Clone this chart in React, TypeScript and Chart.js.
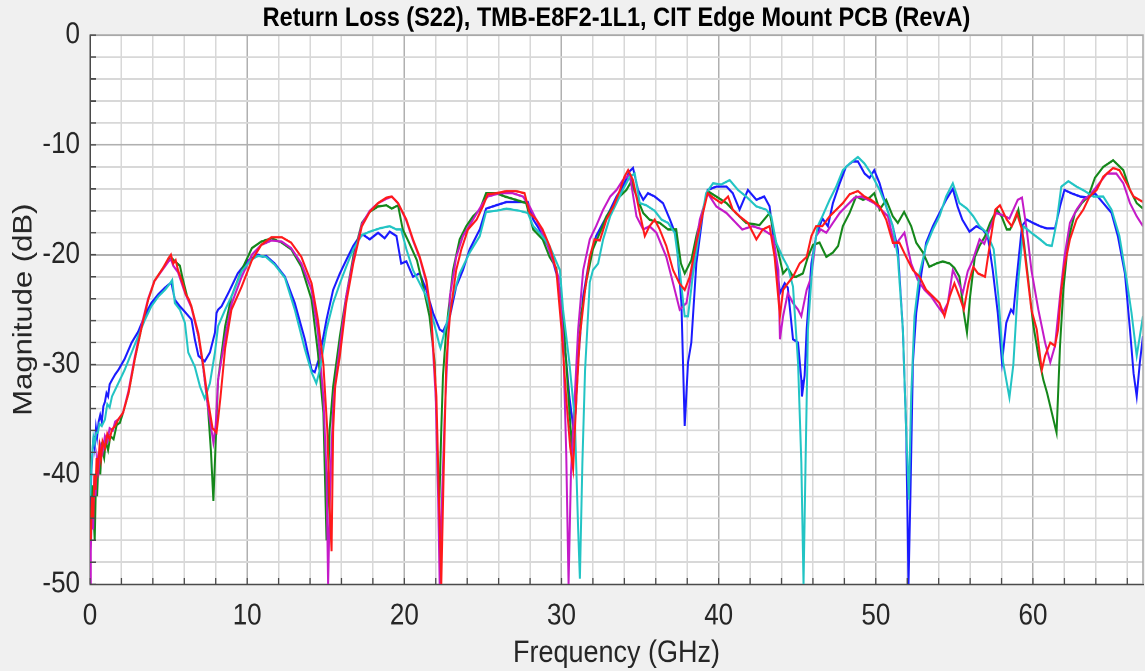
import { useEffect, useRef } from "react";
import { Chart, registerables } from "chart.js";

Chart.register(...registerables);

const TITLE = "Return Loss (S22), TMB-E8F2-1L1, CIT Edge Mount PCB (RevA)";
const X_LABEL = "Frequency (GHz)";
const Y_LABEL = "Magnitude (dB)";
const FONT = '"Liberation Sans", Arial, Helvetica, sans-serif';

// the reference picture is slightly stretched vertically
const STRETCH_Y = 1.15;
const CANVAS_W = 1145;
const CANVAS_H = 584;

const X_MIN = 0;
const X_MAX = 67;
const Y_MIN = -50;
const Y_MAX = 0;
const xTicks = [0, 2, 4, 6, 8, 10, 12, 14, 16, 18, 20, 22, 24, 26, 28, 30, 32, 34, 36, 38, 40, 42, 44, 46, 48, 50, 52, 54, 56, 58, 60, 62, 64, 66];
const yTicks = [-50, -48, -46, -44, -42, -40, -38, -36, -34, -32, -30, -28, -26, -24, -22, -20, -18, -16, -14, -12, -10, -8, -6, -4, -2, 0];

// [frequency GHz, magnitude dB]
const blue: number[][] = [[0.02,-44],[0.08,-40],[0.15,-38.3],[0.22,-36.5],[0.3,-37.5],[0.38,-35.8],[0.45,-36.6],[0.55,-35.2],[0.65,-34.6],[0.75,-35.2],[0.85,-33.8],[0.95,-33.4],[1.05,-32.6],[1.15,-32.9],[1.25,-31.8],[1.4,-31.4],[1.6,-30.9],[1.8,-30.5],[2.2,-29.5],[2.65,-28],[3.07,-27],[3.5,-25.5],[3.9,-24.4],[4.35,-23.6],[4.77,-23],[5.1,-22.6],[5.2,-22.7],[5.4,-24.1],[5.72,-24.7],[6.04,-25.2],[6.46,-25.9],[6.67,-27.7],[6.9,-29.2],[7.3,-29.7],[7.63,-28.9],[7.95,-27.1],[8.05,-25.3],[8.15,-25],[8.37,-24.7],[8.8,-23.5],[9.4,-21.7],[10.06,-20.5],[10.7,-20],[11.0,-20.2],[11.2,-20.1],[11.75,-20.8],[12.4,-22],[13.03,-24.4],[13.67,-27.7],[14.1,-30.5],[14.3,-30.7],[14.62,-29.2],[15.05,-25.9],[15.47,-23.2],[15.9,-21.7],[16.3,-20.5],[16.75,-19.2],[17.17,-18.3],[17.4,-18.2],[17.8,-18.6],[18.33,-18],[18.75,-18.5],[19.07,-17.9],[19.5,-18.3],[19.8,-20.8],[20.13,-20.6],[20.55,-22],[20.98,-21.7],[21.4,-23.2],[21.83,-25.3],[22.25,-26.8],[22.46,-27],[22.9,-25.6],[23.3,-22.9],[23.73,-21.4],[24.16,-19.5],[24.8,-17.7],[25.2,-15.8],[25.85,-15.5],[26.5,-15.2],[27.33,-15.2],[27.86,-15.2],[28.2,-16.8],[28.6,-17.7],[29.24,-19.5],[29.67,-21.7],[29.9,-23.2],[30.2,-28],[30.5,-32.9],[30.74,-35.6],[30.9,-34.5],[31.06,-29.8],[31.38,-23.8],[31.8,-20.2],[32.2,-18.3],[32.65,-17.1],[33.1,-15.9],[33.5,-14.7],[33.9,-13.8],[34.34,-12.4],[34.55,-12.1],[34.87,-14.1],[35.2,-15],[35.5,-14.4],[35.93,-14.7],[36.46,-15.3],[36.9,-16.8],[37.3,-18.3],[37.63,-24.4],[37.84,-35.6],[38.05,-29.8],[38.26,-28],[38.58,-20.8],[39.0,-16.2],[39.3,-14.1],[39.85,-13.8],[40.5,-13.8],[40.9,-14.4],[41.33,-15.9],[41.86,-14.1],[42.4,-15],[42.9,-14.7],[43.24,-15.6],[43.56,-19.2],[43.9,-23.5],[44.2,-22.6],[44.4,-23],[44.73,-27.7],[45.05,-28],[45.26,-31.4],[45.3,-32.9],[45.47,-31],[45.6,-26.8],[45.9,-20.8],[46.2,-18.3],[46.6,-16.7],[46.95,-17.4],[47.27,-15.3],[47.7,-13.5],[48.1,-12],[48.54,-11.5],[48.86,-11.5],[49.28,-12.6],[49.6,-13],[49.9,-12.3],[50.24,-13.5],[50.66,-15.6],[51.08,-17.4],[51.4,-19.5],[51.72,-26.8],[51.93,-35.9],[52.08,-50],[52.2,-42],[52.36,-29.8],[52.57,-25.3],[52.9,-21.7],[53.2,-18.9],[53.63,-17.4],[54.05,-16.2],[54.47,-15],[54.9,-14],[55.2,-15.6],[55.5,-16.8],[55.96,-17.9],[56.4,-17.4],[56.8,-17.7],[57.12,-18.3],[57.44,-21.4],[57.76,-25.3],[58.03,-29.8],[58.3,-26.2],[58.6,-25],[58.75,-25.3],[58.97,-22],[59.3,-17.4],[59.6,-16.8],[60.0,-17.1],[60.45,-17.4],[60.87,-17.6],[61.4,-17.6],[61.72,-15.6],[62.0,-14.1],[62.45,-14.4],[63.0,-14.7],[63.52,-14.8],[63.94,-14.4],[64.47,-15.3],[65.0,-16.2],[65.4,-18.3],[65.85,-21.7],[66.17,-26.8],[66.4,-30.8],[66.6,-32.9],[66.8,-29.8],[67.0,-27.4]];

const cyan: number[][] = [[0.02,-42],[0.1,-39],[0.15,-38],[0.22,-36.6],[0.3,-37.1],[0.4,-36.2],[0.5,-36.2],[0.6,-35.4],[0.75,-35.6],[0.95,-35],[1.1,-33.6],[1.25,-33.9],[1.4,-32.9],[1.8,-31.7],[2.2,-30.5],[2.65,-28.9],[3.07,-27.4],[3.5,-25.9],[3.9,-24.7],[4.35,-23.8],[4.77,-23.2],[5.1,-22.6],[5.23,-22.3],[5.4,-24.4],[5.72,-25],[6.04,-26.2],[6.25,-28.9],[6.67,-30.2],[7.0,-32],[7.3,-33.1],[7.63,-31.7],[7.95,-28.9],[8.15,-26.5],[8.6,-25],[9.0,-23.8],[9.65,-21.5],[10.3,-20.4],[10.7,-20.1],[11.2,-20.2],[11.75,-20.9],[12.4,-22.1],[13.03,-25],[13.67,-28.6],[14.1,-30.7],[14.4,-31.7],[14.62,-30.5],[15.05,-26.8],[15.47,-24.4],[15.9,-22.6],[16.3,-21.1],[16.75,-19.5],[17.3,-18.2],[17.8,-17.9],[18.43,-17.6],[19.07,-17.4],[19.5,-17.7],[19.8,-17.7],[20.13,-19.5],[20.55,-21.4],[20.98,-22.6],[21.4,-23.8],[21.83,-25.9],[22.25,-28.3],[22.3,-28.5],[22.7,-26.2],[23.1,-23.8],[23.52,-21.7],[24.16,-19.8],[24.8,-18.3],[25.2,-16.1],[25.85,-16],[26.5,-15.8],[27.33,-16],[27.86,-16.2],[28.2,-17.4],[28.6,-18],[29.24,-19.2],[29.9,-21.4],[30.1,-25],[30.5,-29.8],[30.85,-35],[31.06,-45],[31.17,-49.5],[31.33,-38.9],[31.5,-30.5],[31.8,-22.5],[32.0,-21.4],[32.33,-20.8],[32.65,-18.6],[33.1,-16.5],[33.5,-15.3],[33.9,-14.1],[34.34,-12.9],[34.66,-12.6],[34.98,-15.3],[35.4,-15.5],[35.93,-16],[36.36,-16.8],[36.78,-17.1],[37.2,-18],[37.52,-21.4],[37.84,-25.6],[38.05,-25.6],[38.37,-21.7],[38.8,-17.7],[39.2,-14.4],[39.64,-13.5],[40.17,-13.6],[40.7,-13.2],[41.23,-14.1],[41.75,-14.7],[42.4,-15.6],[43.03,-15.9],[43.35,-16.5],[43.66,-18.9],[44.1,-20.3],[44.4,-21.1],[44.73,-22.9],[45.05,-29.8],[45.26,-38.9],[45.4,-50],[45.53,-38.9],[45.68,-26.8],[46.0,-20.2],[46.3,-17.4],[46.6,-16.5],[47.06,-15],[47.48,-13.8],[47.9,-12.3],[48.33,-11.7],[48.86,-11.1],[49.28,-11.7],[49.7,-12.6],[50.24,-14.1],[50.66,-15.6],[51.08,-17.4],[51.4,-20.2],[51.72,-26.8],[51.93,-35.9],[52.1,-42.3],[52.25,-32.9],[52.46,-25.6],[52.78,-21.7],[53.2,-19.2],[53.63,-17.7],[54.05,-16.5],[54.47,-14.7],[54.9,-13.5],[55.32,-15.3],[55.8,-15.8],[56.2,-16.5],[56.6,-17.4],[57.06,-18],[57.5,-19.5],[57.8,-23.8],[58.1,-29.8],[58.5,-33],[58.75,-30],[59.07,-22.3],[59.4,-17.4],[59.9,-18],[60.45,-18.6],[60.87,-19.1],[61.2,-19.2],[61.5,-17.1],[61.8,-13.8],[62.25,-13.3],[62.77,-13.8],[63.3,-14.2],[63.84,-14.7],[64.47,-14.7],[65.0,-15.9],[65.5,-18.3],[65.96,-22.3],[66.27,-25.3],[66.6,-29.2],[66.8,-27.4],[67.0,-25.6]];

const red: number[][] = [[0.05,-46],[0.12,-42],[0.2,-44],[0.28,-40],[0.35,-41.4],[0.42,-38.5],[0.5,-39.5],[0.6,-37.5],[0.7,-38.6],[0.8,-37],[0.95,-37.6],[1.1,-36.3],[1.25,-36.8],[1.4,-35.9],[1.6,-35.6],[1.8,-35],[2.1,-34.4],[2.45,-32.6],[2.85,-29.5],[3.3,-26.5],[3.7,-24.1],[4.1,-22.4],[4.65,-21.2],[5.0,-20.3],[5.15,-20],[5.3,-20.8],[5.45,-20.5],[5.6,-21.4],[5.9,-22.6],[6.1,-23.6],[6.3,-24.1],[6.45,-24.7],[6.9,-27.2],[7.2,-30],[7.5,-33.2],[7.8,-35.8],[8.05,-36.2],[8.15,-35],[8.3,-33],[8.6,-28.5],[9.0,-25],[9.65,-22.9],[10.3,-20.5],[10.9,-19.1],[11.55,-18.4],[12.2,-18.4],[12.8,-18.9],[13.45,-20.2],[14.1,-22.6],[14.5,-25.9],[14.85,-30],[15.1,-36],[15.25,-43],[15.37,-47],[15.47,-36],[15.6,-32],[15.9,-29.2],[16.3,-24.4],[16.75,-20.8],[17.3,-17.4],[17.8,-16.1],[18.33,-15.3],[18.86,-14.8],[19.2,-14.7],[19.6,-15.3],[20.13,-16.8],[20.55,-18.6],[20.98,-20.2],[21.4,-22.3],[21.7,-25.3],[22.04,-32.9],[22.2,-42],[22.35,-50],[22.5,-40],[22.67,-29.8],[22.9,-25.6],[23.3,-21.4],[23.63,-19.5],[24.05,-17.7],[24.6,-16.8],[25.0,-15.6],[25.3,-14.5],[25.85,-14.4],[26.5,-14.2],[27.1,-14.2],[27.65,-14.4],[27.97,-16.2],[28.4,-16.8],[28.8,-17.7],[29.24,-19.2],[29.67,-21.4],[30.0,-26.8],[30.3,-33],[30.55,-37.5],[30.74,-39.5],[30.95,-32.9],[31.17,-27.4],[31.5,-23.2],[31.8,-20.2],[32.1,-18.6],[32.44,-18.7],[32.86,-16.8],[33.3,-15.6],[33.7,-14.2],[34.0,-12.9],[34.24,-12.3],[34.55,-13.2],[34.98,-16.2],[35.3,-18.3],[35.6,-17.4],[35.93,-16.8],[36.25,-17.7],[36.67,-19.2],[37.1,-21.4],[37.5,-22.6],[37.84,-23.2],[38.16,-22],[38.58,-18.9],[39.0,-16.2],[39.3,-14.4],[39.64,-14.8],[40.17,-15.3],[40.6,-14.7],[40.9,-15.9],[41.33,-16.5],[41.86,-17.1],[42.4,-18.6],[42.8,-17.7],[43.24,-17.4],[43.56,-20.2],[43.9,-25.6],[44.1,-23.2],[44.4,-22.6],[44.73,-22],[45.15,-20.8],[45.6,-20.2],[45.9,-18.3],[46.2,-17.4],[46.6,-17.4],[47.06,-16.5],[47.48,-15.9],[47.9,-15.3],[48.33,-14.5],[48.86,-14.2],[49.28,-14.7],[49.7,-15],[50.24,-15.6],[50.66,-16.8],[51.08,-18.9],[51.5,-18.9],[51.93,-20.2],[52.36,-21.4],[52.78,-22],[53.2,-23.2],[53.63,-23.8],[54.05,-24.4],[54.37,-25.6],[54.7,-23.8],[55.0,-22.6],[55.32,-23.8],[55.6,-25],[55.9,-22.6],[56.2,-21.1],[56.5,-21.7],[56.95,-22],[57.27,-18.9],[57.6,-15.9],[57.9,-15.5],[58.33,-16.8],[58.65,-17.4],[58.97,-16.2],[59.3,-17.7],[59.6,-21.4],[59.9,-25],[60.24,-26.8],[60.56,-30.5],[60.77,-29.2],[61.1,-28],[61.4,-28.3],[61.6,-26.8],[61.8,-23.2],[62.0,-21.1],[62.35,-18.6],[62.77,-16.8],[63.2,-15.9],[63.6,-14.7],[64.05,-14.1],[64.47,-12.9],[65.1,-12.1],[65.5,-12.3],[65.96,-13.5],[66.4,-14.7],[67.0,-15.2]];

const green: number[][] = [[0.05,-44],[0.12,-41],[0.2,-43],[0.3,-46],[0.38,-40.5],[0.45,-42],[0.55,-38.5],[0.65,-40],[0.75,-37.6],[0.9,-38.5],[1.0,-37],[1.15,-37.8],[1.3,-36.5],[1.5,-36.8],[1.7,-35.5],[1.9,-35.3],[2.1,-34.4],[2.45,-32.6],[2.85,-29.5],[3.3,-26.5],[3.7,-24.1],[4.1,-22.4],[4.65,-21.2],[5.0,-20.5],[5.2,-20.3],[5.4,-20.6],[5.72,-21],[5.9,-22.2],[6.2,-23.9],[6.45,-24.7],[6.9,-27.4],[7.2,-30.2],[7.5,-33.8],[7.7,-38],[7.85,-42.4],[8.0,-37],[8.15,-31.4],[8.6,-26.5],[9.0,-23.8],[9.65,-21.4],[10.3,-19.4],[10.9,-18.8],[11.55,-18.5],[12.2,-18.9],[12.8,-19.5],[13.45,-21.1],[14.1,-24.1],[14.5,-28.9],[14.85,-34.4],[15.05,-46],[15.25,-35.9],[15.47,-32],[15.9,-27.4],[16.3,-23.8],[16.75,-20.2],[17.3,-17.1],[17.8,-16.1],[18.33,-15.6],[18.86,-15.5],[19.2,-15.8],[19.6,-15.5],[19.9,-17.7],[20.3,-18.9],[20.8,-20.5],[21.2,-22.9],[21.6,-25.6],[21.93,-29.8],[22.1,-37],[22.2,-44],[22.35,-36],[22.46,-31],[22.67,-26.8],[23.1,-21.4],[23.52,-18.6],[23.94,-17.4],[24.37,-16.5],[24.8,-15.9],[25.2,-14.4],[25.85,-14.4],[26.4,-14.7],[27.1,-15],[27.75,-15.3],[28.2,-17.7],[28.8,-18.6],[29.24,-20.2],[29.67,-21.2],[30.1,-25.5],[30.4,-32],[30.64,-37.1],[30.8,-35],[30.95,-31.4],[31.27,-25.3],[31.6,-22.3],[32.0,-19.5],[32.44,-18],[32.86,-16.5],[33.3,-15.6],[33.7,-14.7],[34.13,-14.1],[34.45,-13.3],[34.77,-14.7],[35.2,-16.2],[35.6,-16.8],[36.25,-17.1],[36.78,-17.7],[37.3,-17.7],[37.6,-20.8],[37.84,-21.7],[38.26,-20.5],[38.58,-18.3],[39.0,-15.9],[39.3,-14.2],[39.85,-14.7],[40.5,-15.3],[41.1,-16.2],[41.75,-17.1],[42.6,-17.3],[43.24,-16.2],[43.66,-18.9],[44.1,-21.7],[44.4,-21.2],[44.73,-22],[44.94,-22],[45.36,-21.7],[45.68,-20.2],[46.0,-19.1],[46.42,-18.9],[46.85,-20.2],[47.27,-19.8],[47.6,-19.2],[47.9,-17.4],[48.33,-16.2],[48.75,-14.7],[49.18,-15],[49.6,-14.8],[49.9,-14.4],[50.24,-15.9],[50.66,-15],[51.08,-16.5],[51.4,-17.1],[51.8,-16.1],[52.25,-17.4],[52.57,-18.9],[53.0,-19.8],[53.4,-21.1],[53.84,-20.8],[54.26,-20.6],[54.7,-20.8],[55.0,-21.2],[55.32,-22],[55.6,-25.3],[55.8,-27.1],[56.0,-23.8],[56.3,-20.2],[56.6,-19.2],[56.95,-18.3],[57.27,-17.1],[57.7,-15.9],[58.0,-16.5],[58.33,-17.7],[58.54,-17.7],[58.86,-16.8],[59.07,-15.9],[59.4,-18.6],[59.7,-22.3],[60.0,-26.2],[60.34,-29.2],[60.66,-31.4],[60.9,-32.6],[61.2,-34.4],[61.5,-36.2],[61.72,-28.3],[61.93,-23.2],[62.25,-18.6],[62.67,-16.2],[63.1,-15.3],[63.52,-14.7],[63.94,-13],[64.47,-12],[65.1,-11.4],[65.75,-12.3],[66.17,-14.1],[66.6,-15.3],[67.0,-15.8]];

const magenta: number[][] = [[0.0,-50],[0.05,-47],[0.12,-43],[0.2,-45],[0.28,-40],[0.35,-42],[0.45,-38.5],[0.55,-39.5],[0.65,-37.3],[0.8,-38],[0.95,-36.5],[1.1,-37],[1.25,-35.8],[1.45,-36],[1.6,-35.2],[1.8,-35],[2.1,-34.4],[2.45,-32.4],[2.85,-29.3],[3.3,-26.3],[3.7,-24],[4.1,-22.4],[4.65,-21.3],[5.0,-20.6],[5.15,-20.4],[5.3,-21],[5.6,-21.6],[6.05,-23.5],[6.45,-24.8],[6.9,-27.4],[7.2,-30.2],[7.5,-33.8],[7.85,-37.1],[8.0,-35.5],[8.15,-31.4],[8.6,-27.5],[9.0,-24.5],[9.65,-22],[10.3,-20],[10.9,-19.1],[11.55,-18.7],[12.2,-18.8],[12.8,-19.4],[13.45,-20.8],[14.1,-23.2],[14.5,-27],[14.85,-33],[15.05,-40],[15.15,-50],[15.3,-40],[15.5,-33],[15.9,-28.3],[16.3,-23.8],[16.75,-20.5],[17.3,-17.2],[17.8,-16],[18.33,-15.3],[18.86,-14.9],[19.2,-14.7],[19.6,-15.3],[20.13,-16.9],[20.55,-18.7],[20.98,-20.3],[21.4,-22.5],[21.7,-25.5],[22.0,-33],[22.15,-42],[22.25,-50],[22.4,-42],[22.56,-35],[22.9,-23.8],[23.3,-20.2],[23.73,-18.3],[24.37,-16.8],[25.0,-15.3],[25.3,-14.7],[26.06,-14.4],[26.9,-14.4],[27.55,-14.7],[27.97,-15.6],[28.6,-17.4],[29.05,-18.9],[29.47,-20.6],[29.8,-22],[30.1,-27.5],[30.3,-38],[30.45,-50],[30.6,-40],[30.74,-35.9],[31.06,-26.8],[31.38,-21.4],[31.8,-18.6],[32.2,-17.4],[32.65,-15.9],[33.1,-14.7],[33.5,-14.1],[33.9,-13.2],[34.34,-12.7],[34.77,-16.5],[35.2,-17.7],[35.6,-17.4],[36.04,-18],[36.67,-20.2],[37.1,-22.6],[37.52,-25],[37.95,-24.4],[38.37,-20.8],[38.8,-16.8],[39.3,-14.4],[39.85,-15.6],[40.5,-16.2],[41.1,-17.1],[41.5,-17.7],[42.16,-17.4],[42.8,-17.7],[43.45,-18.3],[43.8,-21.4],[43.9,-27.7],[44.1,-25.6],[44.4,-23.5],[44.73,-24.4],[45.05,-25],[45.26,-25.6],[45.6,-23.2],[45.9,-22],[46.2,-18.3],[46.5,-17.7],[46.85,-18],[47.27,-17.1],[47.7,-16.2],[48.1,-15.6],[48.65,-14.8],[49.07,-14.7],[49.5,-15],[49.9,-15.3],[50.35,-15.9],[50.77,-16.5],[51.2,-19.2],[51.5,-18.6],[51.82,-18],[52.25,-20.8],[52.67,-22.3],[53.1,-23.2],[53.52,-23.8],[53.95,-24.7],[54.26,-25.3],[54.58,-24.4],[54.9,-21.4],[55.2,-22.3],[55.53,-23.5],[55.85,-21.5],[56.17,-20.5],[56.6,-18.6],[56.9,-19],[57.23,-17.7],[57.65,-16.2],[58.07,-16.4],[58.5,-16.7],[59.03,-15],[59.3,-14.8],[59.6,-17.7],[59.9,-21.4],[60.34,-25],[60.77,-28],[61.1,-29.8],[61.4,-28.3],[61.72,-23.8],[62.0,-20.2],[62.35,-17.1],[62.77,-15.9],[63.2,-15],[63.6,-14.6],[64.05,-13.8],[64.7,-12.6],[65.3,-12.6],[65.75,-13.5],[66.17,-15.3],[66.6,-16.5],[67.0,-17.4]];

// first entry is drawn on top
const seriesList = [
  { name: "red", color: "#ff1a1a", points: red },
  { name: "cyan", color: "#22c4c4", points: cyan },
  { name: "magenta", color: "#c41ac8", points: magenta },
  { name: "green", color: "#14871a", points: green },
  { name: "blue", color: "#1a1aff", points: blue },
];

const decor = {
  id: "decor",
  beforeDraw(chart: any) {
    const { ctx, chartArea: a, width, height } = chart;
    ctx.save();
    ctx.fillStyle = "#f0f0f0";
    ctx.fillRect(0, 0, width, height);
    ctx.fillStyle = "#ffffff";
    ctx.fillRect(a.left, a.top, a.right - a.left, a.bottom - a.top);
    ctx.restore();
  },
  afterDraw(chart: any) {
    const { ctx, chartArea: a, scales } = chart;
    ctx.save();
    ctx.strokeStyle = "#a8a8a8";
    ctx.lineWidth = 1.5;
    ctx.beginPath();
    ctx.moveTo(a.left, a.top);
    ctx.lineTo(a.right, a.top);
    ctx.lineTo(a.right, a.bottom);
    ctx.stroke();
    ctx.strokeStyle = "#4a4a4a";
    ctx.lineWidth = 1.3;
    ctx.beginPath();
    for (const v of xTicks) {
      const px = scales.x.getPixelForValue(v);
      ctx.moveTo(px, a.bottom);
      ctx.lineTo(px, a.bottom - 5.5);
    }
    for (const v of yTicks) {
      const py = scales.y.getPixelForValue(v);
      ctx.moveTo(a.left, py);
      ctx.lineTo(a.left + 6, py);
    }
    ctx.stroke();
    ctx.fillStyle = "#000000";
    ctx.font = `bold 23.5px ${FONT}`;
    ctx.textAlign = "center";
    ctx.textBaseline = "middle";
    ctx.fillText(TITLE, (a.left + a.right) / 2, 16);
    ctx.restore();
  },
};

const gridColor = (c: any) =>
  c.tick && Math.abs(c.tick.value % 10) < 1e-9 ? "#b0b0b0" : "#d8d8d8";

const tickLabel = (v: any) => (Math.abs(Number(v) % 10) < 1e-9 ? String(Number(v)) : "");

export default function App() {
  const ref = useRef<HTMLCanvasElement | null>(null);

  useEffect(() => {
    if (!ref.current) return;
    const chart = new Chart(ref.current, {
      type: "line",
      data: {
        datasets: seriesList.map((s) => ({
          label: s.name,
          data: s.points.map(([x, y]) => ({ x, y })),
          borderColor: s.color,
          backgroundColor: s.color,
          borderWidth: 2,
          pointRadius: 0,
          tension: 0,
          fill: false,
        })),
      },
      options: {
        animation: false,
        responsive: false,
        devicePixelRatio: 2,
        events: [],
        layout: { padding: { left: 0, right: 2, top: 30.5, bottom: 0 } },
        plugins: {
          legend: { display: false },
          tooltip: { enabled: false },
          title: { display: false },
        },
        scales: {
          x: {
            type: "linear",
            min: X_MIN,
            max: X_MAX,
            afterBuildTicks: (s: any) => {
              s.ticks = xTicks.map((v) => ({ value: v }));
            },
            afterFit: (s: any) => {
              s.height = 76;
            },
            ticks: {
              callback: tickLabel,
              autoSkip: false,
              maxRotation: 0,
              padding: 12,
              color: "#262626",
              font: { family: FONT, size: 26 },
            },
            grid: { color: gridColor, lineWidth: 1.5, drawTicks: false },
            border: { display: true, color: "#4a4a4a", width: 1.5 },
            title: {
              display: true,
              text: X_LABEL,
              color: "#262626",
              font: { family: FONT, size: 27 },
              padding: { top: 0, bottom: 0 },
            },
          },
          y: {
            type: "linear",
            min: Y_MIN,
            max: Y_MAX,
            afterBuildTicks: (s: any) => {
              s.ticks = yTicks.map((v) => ({ value: v }));
            },
            afterFit: (s: any) => {
              s.width = 90;
            },
            ticks: {
              callback: tickLabel,
              autoSkip: false,
              padding: 10,
              color: "#262626",
              font: { family: FONT, size: 26 },
            },
            grid: { color: gridColor, lineWidth: 1.5, drawTicks: false },
            border: { display: true, color: "#4a4a4a", width: 1.5 },
            title: {
              display: true,
              text: Y_LABEL,
              color: "#262626",
              font: { family: FONT, size: 27 },
              padding: { top: 8, bottom: 0 },
            },
          },
        },
      } as any,
      plugins: [decor],
    });
    return () => chart.destroy();
  }, []);

  return (
    <div
      style={{
        position: "fixed",
        left: 0,
        top: 0,
        width: 1145,
        height: 671,
        overflow: "hidden",
        background: "#f0f0f0",
      }}
    >
      <div style={{ transform: `scaleY(${STRETCH_Y})`, transformOrigin: "0 0" }}>
        <canvas
          ref={ref}
          width={CANVAS_W}
          height={CANVAS_H}
          style={{ display: "block", width: CANVAS_W, height: CANVAS_H }}
        />
      </div>
    </div>
  );
}
